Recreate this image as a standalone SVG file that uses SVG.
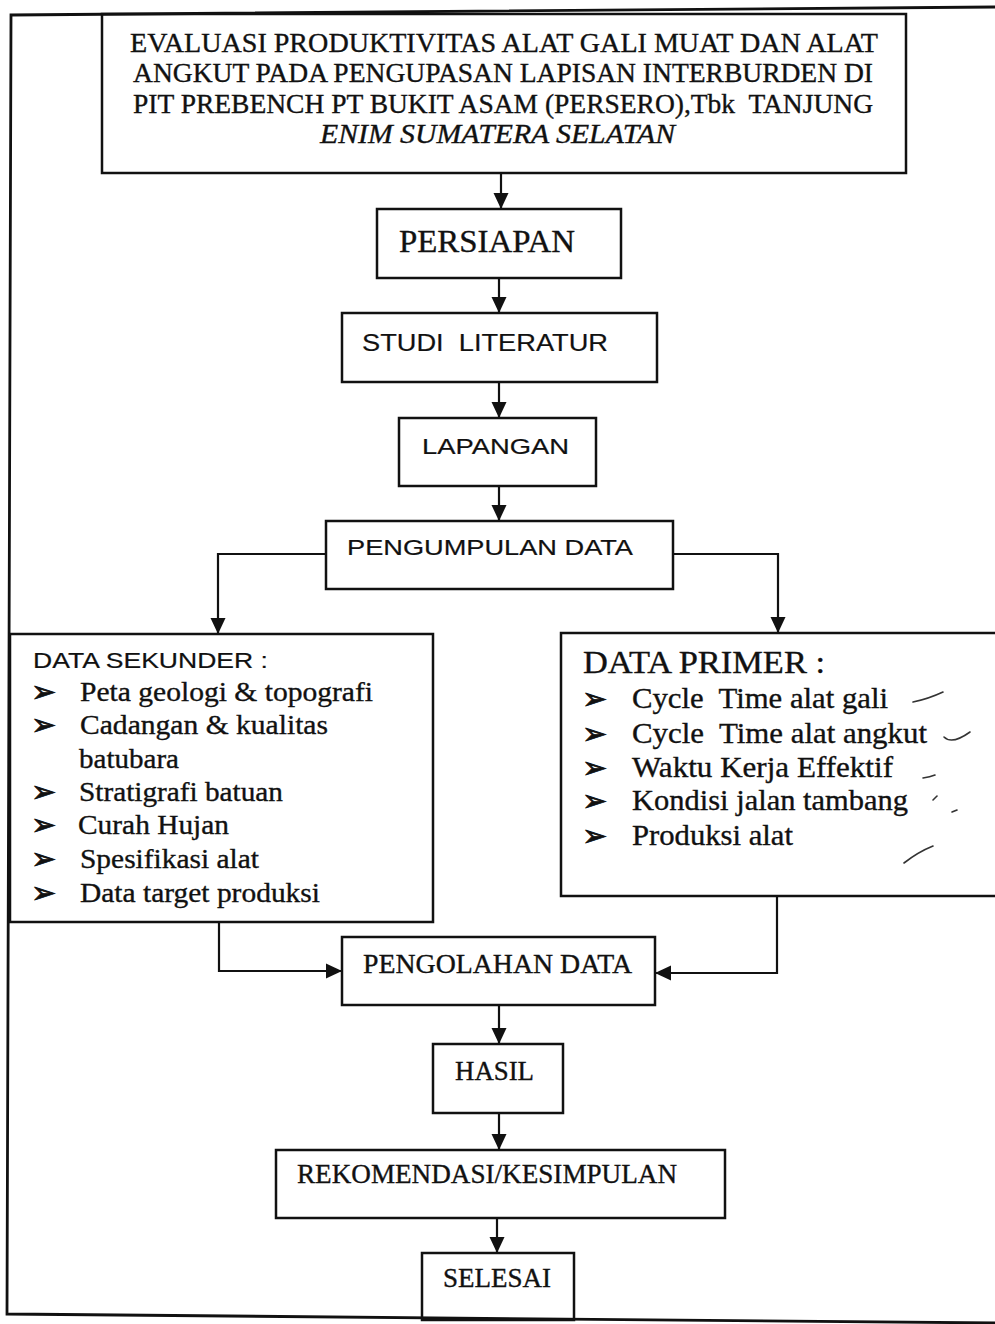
<svg xmlns="http://www.w3.org/2000/svg" width="995" height="1324" viewBox="0 0 995 1324">
<style>
.box{fill:none;stroke:#111;stroke-width:2.5}
.frame{fill:none;stroke:#111;stroke-width:2.8}
.con{fill:none;stroke:#111;stroke-width:2.2}
.serif{font-family:"Liberation Serif","Times New Roman",serif;fill:#111;stroke:#111;stroke-width:0.35}
.sans{font-family:"Liberation Sans",Arial,sans-serif;fill:#111;stroke:#111;stroke-width:0.2}
.bul{font-family:"DejaVu Sans",sans-serif;fill:#111;stroke:#111;stroke-width:0.8;font-size:30px}
.pen{fill:none;stroke:#333;stroke-width:1.6;stroke-linecap:round}
</style>
<defs>
<marker id="ah" markerUnits="userSpaceOnUse" markerWidth="16" markerHeight="16" refX="16" refY="8" orient="auto">
<path d="M0,0.5 L16,8 L0,15.5 Z" fill="#111"/>
</marker>
</defs>
<rect width="995" height="1324" fill="#fff"/>
<path class="frame" d="M995,7 L11,15 L7,1314 L995,1323"/>

<g id="connectors">
<path class="con" d="M501,173 V209" marker-end="url(#ah)"/>
<path class="con" d="M499,278 V313" marker-end="url(#ah)"/>
<path class="con" d="M499,382 V418" marker-end="url(#ah)"/>
<path class="con" d="M499,486 V521" marker-end="url(#ah)"/>
<path class="con" d="M326,554 H218 V634" marker-end="url(#ah)"/>
<path class="con" d="M673,554 H778 V633" marker-end="url(#ah)"/>
<path class="con" d="M219,922 V971 H342" marker-end="url(#ah)"/>
<path class="con" d="M777,896 V973 H655" marker-end="url(#ah)"/>
<path class="con" d="M499,1005 V1044" marker-end="url(#ah)"/>
<path class="con" d="M499,1113 V1150" marker-end="url(#ah)"/>
<path class="con" d="M497,1218 V1253" marker-end="url(#ah)"/>
</g>

<g id="judul">
<rect class="box" x="102" y="14" width="804" height="159"/>
<text class="serif" font-size="27" x="130" y="52" textLength="748" lengthAdjust="spacingAndGlyphs">EVALUASI PRODUKTIVITAS ALAT GALI MUAT DAN ALAT</text>
<text class="serif" font-size="27" x="133" y="82" textLength="740" lengthAdjust="spacingAndGlyphs">ANGKUT PADA PENGUPASAN LAPISAN INTERBURDEN DI</text>
<text class="serif" font-size="27" x="133" y="113" textLength="740" lengthAdjust="spacingAndGlyphs">PIT PREBENCH PT BUKIT ASAM (PERSERO),Tbk&#160; TANJUNG</text>
<text class="serif" font-size="27" font-style="italic" x="320" y="143" textLength="355" lengthAdjust="spacingAndGlyphs">ENIM SUMATERA SELATAN</text>
</g>

<g id="persiapan">
<rect class="box" x="377" y="209" width="244" height="69"/>
<text class="serif" font-size="32" x="399" y="252" textLength="176" lengthAdjust="spacingAndGlyphs">PERSIAPAN</text>
</g>

<g id="studi-literatur">
<rect class="box" x="342" y="313" width="315" height="69"/>
<text class="sans" font-size="24" x="362" y="351" textLength="246" lengthAdjust="spacingAndGlyphs">STUDI&#160; LITERATUR</text>
</g>

<g id="lapangan">
<rect class="box" x="399" y="418" width="197" height="68"/>
<text class="sans" font-size="22" x="422" y="454" textLength="147" lengthAdjust="spacingAndGlyphs">LAPANGAN</text>
</g>

<g id="pengumpulan-data">
<rect class="box" x="326" y="521" width="347" height="68"/>
<text class="sans" font-size="22" x="347" y="555" textLength="286" lengthAdjust="spacingAndGlyphs">PENGUMPULAN DATA</text>
</g>

<g id="data-sekunder">
<rect class="box" x="10" y="634" width="423" height="288"/>
<text class="sans" font-size="22" x="33" y="668" textLength="235" lengthAdjust="spacingAndGlyphs">DATA SEKUNDER :</text>
<text class="bul" x="31" y="702">➢</text>
<text class="bul" x="31" y="735">➢</text>
<text class="bul" x="31" y="802">➢</text>
<text class="bul" x="31" y="835">➢</text>
<text class="bul" x="31" y="869">➢</text>
<text class="bul" x="31" y="903">➢</text>
<text class="serif" font-size="28" x="80" y="701" textLength="293" lengthAdjust="spacingAndGlyphs">Peta geologi &amp; topografi</text>
<text class="serif" font-size="28" x="80" y="734" textLength="248" lengthAdjust="spacingAndGlyphs">Cadangan &amp; kualitas</text>
<text class="serif" font-size="28" x="79" y="768" textLength="100" lengthAdjust="spacingAndGlyphs">batubara</text>
<text class="serif" font-size="28" x="79" y="801" textLength="204" lengthAdjust="spacingAndGlyphs">Stratigrafi batuan</text>
<text class="serif" font-size="28" x="78" y="834" textLength="151" lengthAdjust="spacingAndGlyphs">Curah Hujan</text>
<text class="serif" font-size="28" x="80" y="868" textLength="179" lengthAdjust="spacingAndGlyphs">Spesifikasi alat</text>
<text class="serif" font-size="28" x="80" y="902" textLength="240" lengthAdjust="spacingAndGlyphs">Data target produksi</text>
</g>

<g id="data-primer">
<rect class="box" x="561" y="633" width="445" height="263"/>
<text class="serif" font-size="31" x="583" y="673" textLength="242" lengthAdjust="spacingAndGlyphs">DATA PRIMER :</text>
<text class="bul" x="582" y="709">➢</text>
<text class="bul" x="582" y="744">➢</text>
<text class="bul" x="582" y="778">➢</text>
<text class="bul" x="582" y="811">➢</text>
<text class="bul" x="582" y="846">➢</text>
<text class="serif" font-size="29" x="632" y="708" textLength="256" lengthAdjust="spacingAndGlyphs">Cycle&#160; Time alat gali</text>
<text class="serif" font-size="29" x="632" y="743" textLength="295" lengthAdjust="spacingAndGlyphs">Cycle&#160; Time alat angkut</text>
<text class="serif" font-size="29" x="632" y="777" textLength="261" lengthAdjust="spacingAndGlyphs">Waktu Kerja Effektif</text>
<text class="serif" font-size="29" x="632" y="810" textLength="276" lengthAdjust="spacingAndGlyphs">Kondisi jalan tambang</text>
<text class="serif" font-size="29" x="632" y="845" textLength="161" lengthAdjust="spacingAndGlyphs">Produksi alat</text>
<path class="pen" d="M913,702 Q928,699 943,692"/>
<path class="pen" d="M944,737 Q952,745 970,732"/>
<path class="pen" d="M923,778 Q930,777 935,775"/>
<path class="pen" d="M933,800 L937,796"/>
<path class="pen" d="M952,812 L957,810"/>
<path class="pen" d="M904,863 Q918,852 933,846"/>
</g>

<g id="pengolahan-data">
<rect class="box" x="342" y="937" width="313" height="68"/>
<text class="serif" font-size="27" x="363" y="973" textLength="269" lengthAdjust="spacingAndGlyphs">PENGOLAHAN DATA</text>
</g>

<g id="hasil">
<rect class="box" x="433" y="1044" width="130" height="69"/>
<text class="serif" font-size="27" x="455" y="1080" textLength="79" lengthAdjust="spacingAndGlyphs">HASIL</text>
</g>

<g id="rekomendasi">
<rect class="box" x="276" y="1150" width="449" height="68"/>
<text class="serif" font-size="27" x="297" y="1183" textLength="380" lengthAdjust="spacingAndGlyphs">REKOMENDASI/KESIMPULAN</text>
</g>

<g id="selesai">
<rect class="box" x="422" y="1253" width="152" height="67"/>
<text class="serif" font-size="27" x="443" y="1287" textLength="108" lengthAdjust="spacingAndGlyphs">SELESAI</text>
</g>
</svg>
